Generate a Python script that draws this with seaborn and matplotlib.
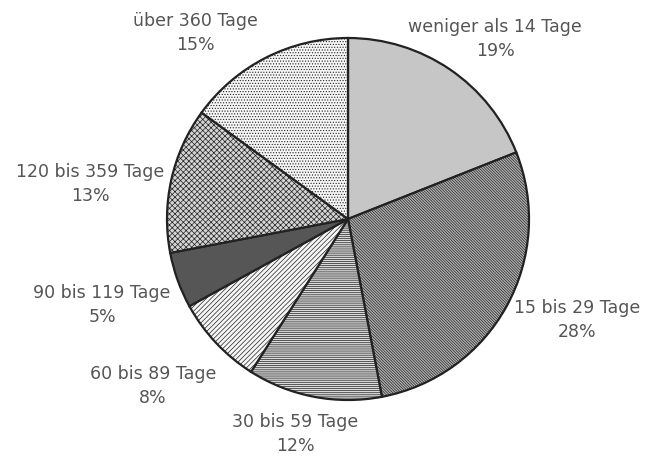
import matplotlib
matplotlib.use("Agg")
import matplotlib.pyplot as plt
import seaborn as sns

# data
categories = ["weniger als 14 Tage", "15 bis 29 Tage", "30 bis 59 Tage", "60 bis 89 Tage",
              "90 bis 119 Tage", "120 bis 359 Tage", "über 360 Tage"]
shares = [19, 28, 12, 8, 5, 13, 15]

# styling per slice
face_colors = ["#c6c6c6", "#b4b4b4", "#dadada", "#f6f6f6", "#565656", "#d4d4d4", "#f6f6f6"]
hatches = [None, "\\" * 12, "-" * 8, "/" * 7, None, "x" * 6, "." * 6]
# label centres in pixel coords (x, y from top)
label_pos = [(495, 39), (577, 320), (295, 434), (153, 386), (102, 305), (90, 184), (195, 33)]

sns.set_style("white")
plt.rcParams['font.family'] = ['DejaVu Sans']
plt.rcParams['hatch.linewidth'] = 0.5

W, H = 649, 460
fig = plt.figure(figsize=(W / 100, H / 100), dpi=100)
ax = fig.add_axes([0, 0, 1, 1])

wedges, _ = ax.pie(shares, startangle=90, counterclock=False, center=(348, H - 220),
                   radius=181, colors=face_colors, frame=True,
                   wedgeprops=dict(edgecolor="#222222", linewidth=1.6))
for w, h in zip(wedges, hatches):
    if h:
        w.set_hatch(h)
ax.set_xlim(0, W)
ax.set_ylim(0, H)
ax.set_aspect('equal')
ax.axis('off')

for cat, val, (x, y) in zip(categories, shares, label_pos):
    ax.text(x, H - y, f"{cat}\n{val}%", ha='center', va='center', fontsize=12.5,
            color="#555555", linespacing=1.45)

fig.savefig("out.png", dpi=100, facecolor="white")
